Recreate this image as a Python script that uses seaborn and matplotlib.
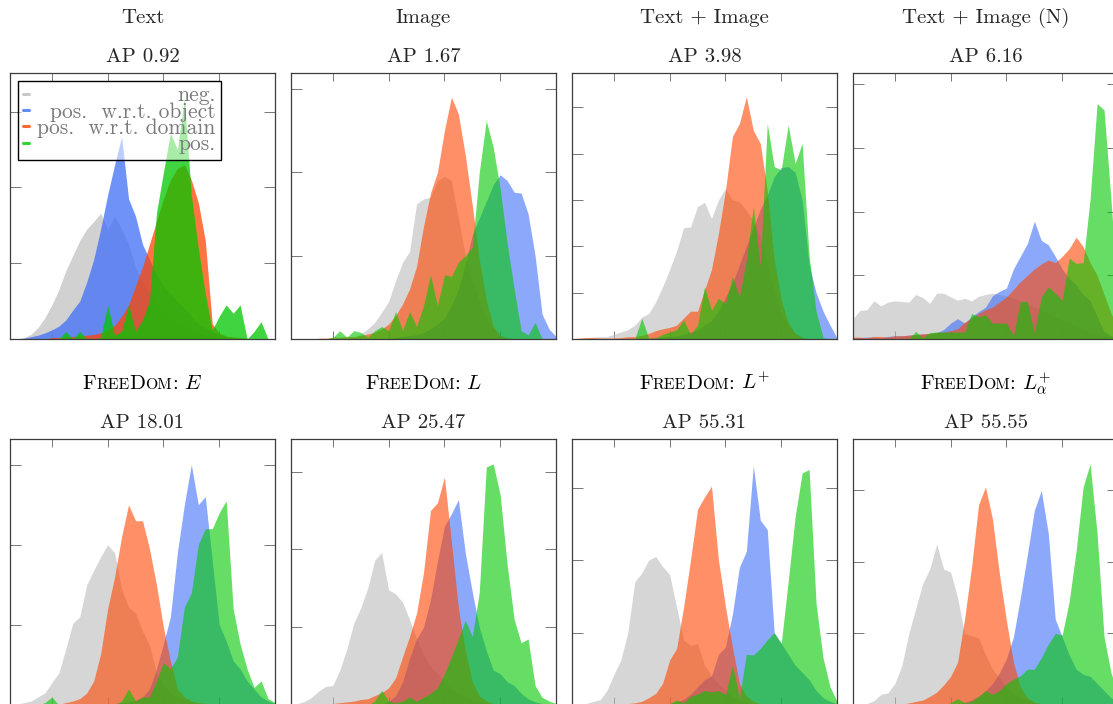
import numpy as np
import pandas as pd
import matplotlib
matplotlib.use("Agg")
import matplotlib.pyplot as plt
import seaborn as sns
from matplotlib.lines import Line2D

# ---------------- data ----------------
# score bin centres shared by all panels (0.05 ... 1.00, step 0.025)
SCORE = np.round(np.arange(0.05, 1.0 + 1e-9, 0.025), 3)

TOP_TITLES = ["Text", "Image", "Text + Image", "Text + Image (N)"]
AP_LABELS = ["AP 0.92", "AP 1.67", "AP 3.98", "AP 6.16",
             "AP 18.01", "AP 25.47", "AP 55.31", "AP 55.55"]
BOTTOM_MATH = ["$E$", "$L$", "$L^{+}$", "$L_{\\alpha}^{+}$"]
SERIES_LABELS = ["neg.", "pos.  w.r.t. object", "pos.  w.r.t. domain", "pos."]

# panel 1: Text
text_neg = [0, 0, 0.02, 0.06, 0.15, 0.28, 0.45, 0.65, 0.9, 1.1, 1.3, 1.45, 1.55, 1.66, 1.45, 1.62, 1.45, 1.25, 0.95, 0.75,
            0.6, 0.45, 0.35, 0.28, 0.2, 0.15, 0.1, 0.08, 0.05, 0.04, 0.03, 0.02, 0, 0, 0, 0, 0, 0, 0]
text_obj = [0, 0, 0.01, 0.03, 0.05, 0.08, 0.12, 0.17, 0.25, 0.38, 0.5, 0.75, 1.05, 1.45, 1.9, 2.3, 2.67, 1.85, 1.62, 1.25,
            1.05, 0.85, 0.7, 0.6, 0.5, 0.4, 0.3, 0.2, 0.15, 0.1, 0.05, 0.03, 0.01, 0, 0, 0, 0, 0, 0]
text_dom = [0, 0, 0, 0, 0, 0, 0.02, 0.02, 0.03, 0.03, 0.04, 0.05, 0.06, 0.08, 0.12, 0.18, 0.3, 0.45, 0.7, 0.95,
            1.25, 1.55, 1.85, 2.1, 2.25, 2.3, 2.1, 1.8, 1.3, 0.2, 0.08, 0.04, 0.03, 0.02, 0.01, 0, 0, 0, 0]
text_pos = [0, 0, 0, 0, 0, 0, 0, 0, 0.1, 0, 0.1, 0, 0, 0.02, 0.45, 0.05, 0.1, 0.45, 0.1, 0.25,
            0.5, 1.66, 2.2, 2.72, 2.5, 3.18, 1.9, 1.2, 0.6, 0.12, 0.3, 0.45, 0.34, 0.45, 0, 0.1, 0.23, 0, 0]

# panel 2: Image
image_neg = [0, 0, 0, 0, 0, 0, 0, 0, 0, 0.02, 0.06, 0.12, 0.2, 0.32, 0.45, 0.7, 0.92, 1.05, 1.62, 1.68,
             1.7, 1.9, 1.95, 1.9, 1.45, 1.0, 0.7, 0.45, 0.25, 0.12, 0.05, 0.02, 0, 0, 0, 0, 0, 0, 0]
image_obj = [0, 0, 0, 0, 0, 0, 0, 0, 0, 0, 0, 0, 0, 0, 0, 0.02, 0.03, 0.04, 0.05, 0.08,
             0.12, 0.18, 0.25, 0.4, 0.6, 0.9, 1.25, 1.45, 1.65, 1.85, 1.97, 1.9, 1.76, 1.75, 1.5, 1.0, 0.3, 0.12, 0.03]
image_dom = [0, 0, 0, 0, 0.01, 0.01, 0.02, 0.02, 0.03, 0.03, 0.04, 0.06, 0.08, 0.12, 0.18, 0.28, 0.42, 0.6, 0.87, 1.35,
             1.75, 2.0, 2.5, 2.9, 2.7, 2.2, 1.6, 0.95, 0.47, 0.15, 0.04, 0.01, 0, 0, 0, 0, 0, 0, 0]
image_pos = [0, 0, 0, 0, 0, 0, 0.02, 0.1, 0.02, 0.1, 0.08, 0.02, 0.1, 0.15, 0.1, 0.33, 0.1, 0.33, 0.15, 0.4,
             0.77, 0.4, 0.77, 0.75, 0.92, 1.0, 1.1, 2.0, 2.62, 2.3, 1.8, 1.15, 0.6, 0.1, 0.05, 0.2, 0, 0, 0]

# panel 3: Text + Image
ti_neg = [0, 0, 0.02, 0.04, 0.05, 0.05, 0.1, 0.15, 0.2, 0.3, 0.47, 0.55, 0.8, 1.13, 1.5, 1.9, 2.4, 2.42, 2.86, 2.95,
          2.6, 3.0, 3.25, 3.0, 2.96, 2.78, 2.55, 2.2, 1.6, 1.0, 0.6, 0.3, 0.12, 0.05, 0, 0, 0, 0, 0]
ti_obj = [0, 0, 0, 0, 0, 0, 0, 0, 0, 0, 0.02, 0.02, 0.03, 0.04, 0.05, 0.07, 0.1, 0.15, 0.2, 0.3,
          0.4, 0.6, 0.9, 1.2, 1.6, 2.0, 2.4, 2.8, 3.1, 3.5, 3.7, 3.72, 3.6, 3.0, 1.6, 1.0, 0.6, 0.3, 0.02]
ti_dom = [0, 0.02, 0.03, 0.03, 0.02, 0.02, 0.02, 0.03, 0.05, 0.05, 0.08, 0.12, 0.18, 0.22, 0.25, 0.3, 0.45, 0.6, 0.6, 1.05,
          1.5, 2.28, 3.2, 4.37, 4.65, 5.23, 4.5, 4.22, 3.2, 1.7, 0.85, 0.35, 0.12, 0.03, 0, 0, 0, 0, 0]
ti_pos = [0, 0, 0, 0, 0, 0, 0, 0, 0, 0, 0.45, 0.02, 0.02, 0.1, 0.15, 0.2, 0.41, 0.1, 0.3, 1.13,
          0.62, 0.88, 0.77, 1.35, 0.91, 1.7, 2.86, 1.56, 4.65, 3.72, 3.65, 4.62, 3.79, 4.22, 1.8, 0.6, 0.03, 0, 0]

# panel 4: Text + Image (N)
tin_neg = [0.32, 0.45, 0.46, 0.6, 0.52, 0.58, 0.6, 0.59, 0.58, 0.7, 0.65, 0.56, 0.72, 0.72, 0.66, 0.61, 0.64, 0.6, 0.67, 0.7,
           0.72, 0.7, 0.68, 0.65, 0.6, 0.55, 0.5, 0.45, 0.4, 0.35, 0.3, 0.25, 0.2, 0.15, 0.1, 0.08, 0.05, 0.03, 0.02]
tin_obj = [0.02, 0.02, 0.03, 0.03, 0.02, 0.04, 0.05, 0.05, 0.06, 0.07, 0.08, 0.08, 0.1, 0.15, 0.25, 0.32, 0.25, 0.35, 0.43, 0.5,
           0.68, 0.75, 0.8, 1.1, 1.3, 1.5, 1.85, 1.55, 1.48, 1.3, 1.1, 0.95, 0.85, 0.7, 0.6, 0.35, 0.12, 0.05, 0]
tin_dom = [0.03, 0.03, 0.02, 0.04, 0.04, 0.03, 0.05, 0.05, 0.06, 0.07, 0.08, 0.09, 0.1, 0.11, 0.13, 0.16, 0.26, 0.33, 0.4, 0.46,
           0.5, 0.58, 0.66, 0.78, 0.9, 1.0, 1.1, 1.18, 1.24, 1.2, 1.3, 1.42, 1.6, 1.45, 1.2, 1.0, 0.7, 0.4, 0.2]
tin_pos = [0, 0, 0, 0, 0, 0, 0, 0, 0, 0.12, 0.02, 0.1, 0.11, 0.11, 0.11, 0.11, 0.11, 0.4, 0.35, 0.38,
           0.25, 0.25, 0.25, 0.05, 0.59, 0.59, 0.1, 0.66, 0.82, 0.72, 0.61, 1.27, 1.19, 1.2, 2.2, 3.7, 3.6, 2.18, 0.6]

# panel 5: FreeDom E
e_neg = [0, 0.01, 0.03, 0.05, 0.1, 0.15, 0.28, 0.4, 0.7, 1.02, 1.1, 1.5, 1.68, 1.85, 2.0, 1.9, 1.45, 1.22, 1.15, 0.92,
         0.75, 0.4, 0.25, 0.15, 0.1, 0.06, 0.04, 0.02, 0.01, 0, 0, 0, 0, 0, 0, 0, 0, 0, 0]
e_obj = [0, 0, 0, 0, 0, 0, 0, 0, 0, 0, 0, 0, 0, 0, 0, 0.02, 0.03, 0.04, 0.06, 0.1,
         0.2, 0.45, 0.76, 1.1, 1.9, 2.5, 3.0, 2.5, 2.6, 1.8, 1.0, 0.8, 0.55, 0.45, 0.3, 0.2, 0.1, 0.05, 0.02]
e_dom = [0, 0, 0, 0, 0, 0, 0, 0.01, 0.03, 0.05, 0.08, 0.15, 0.3, 0.64, 1.2, 1.6, 2.1, 2.5, 2.3, 2.3,
         1.95, 1.5, 0.97, 0.55, 0.2, 0.1, 0.05, 0.03, 0.02, 0.01, 0, 0, 0, 0, 0, 0, 0, 0, 0]
e_pos = [0, 0, 0, 0, 0, 0.03, 0.1, 0, 0, 0, 0, 0, 0, 0, 0, 0, 0.05, 0.2, 0.05, 0.1,
         0.1, 0.3, 0.53, 0.45, 0.6, 1.22, 1.4, 2.0, 2.2, 2.2, 2.4, 2.55, 1.2, 0.76, 0.45, 0.22, 0.3, 0.08, 0.03]

# panel 6: FreeDom L
l_neg = [0, 0.02, 0.05, 0.1, 0.18, 0.24, 0.25, 0.45, 0.72, 1.05, 1.25, 1.5, 1.86, 1.96, 1.48, 1.43, 1.32, 1.1, 0.85, 0.65,
         0.5, 0.4, 0.3, 0.22, 0.15, 0.1, 0.06, 0.04, 0.02, 0, 0, 0, 0, 0, 0, 0, 0, 0, 0]
l_obj = [0, 0, 0, 0, 0, 0, 0, 0, 0, 0, 0, 0, 0, 0, 0.05, 0.12, 0.3, 0.6, 0.85, 1.0,
         1.35, 1.85, 2.3, 2.46, 2.64, 1.95, 1.45, 1.0, 0.7, 0.45, 0.4, 0.3, 0.25, 0.15, 0.08, 0.04, 0.02, 0, 0]
l_dom = [0, 0, 0, 0, 0, 0, 0.02, 0.03, 0.04, 0.05, 0.07, 0.08, 0.12, 0.16, 0.22, 0.35, 0.62, 0.88, 1.18, 1.7,
         2.5, 2.6, 2.93, 2.1, 1.25, 0.7, 0.3, 0.12, 0.05, 0.02, 0, 0, 0, 0, 0, 0, 0, 0, 0]
l_pos = [0, 0, 0, 0, 0, 0, 0, 0, 0, 0, 0, 0, 0.05, 0.19, 0.05, 0.03, 0.05, 0.1, 0.05, 0.1,
         0.15, 0.22, 0.4, 0.62, 0.85, 1.09, 0.88, 1.45, 3.06, 3.1, 2.7, 1.8, 1.1, 0.8, 0.85, 0.25, 0.1, 0.05, 0.02]

# panel 7: FreeDom L+
lp_neg = [0, 0, 0.02, 0.05, 0.07, 0.2, 0.42, 0.62, 1.0, 1.7, 1.82, 2.0, 2.05, 1.91, 1.8, 1.35, 0.9, 0.82, 0.85, 0.55,
          0.4, 0.3, 0.2, 0.12, 0.07, 0.04, 0.02, 0, 0, 0, 0, 0, 0, 0, 0, 0, 0, 0, 0]
lp_obj = [0, 0, 0, 0, 0, 0, 0, 0, 0, 0, 0, 0, 0, 0, 0.02, 0.04, 0.08, 0.15, 0.25, 0.35,
          0.4, 0.7, 0.8, 1.25, 1.9, 2.12, 3.3, 2.55, 2.42, 0.99, 0.85, 0.7, 0.55, 0.45, 0.35, 0.2, 0.1, 0.05, 0.02]
lp_dom = [0, 0, 0, 0, 0, 0, 0, 0.01, 0.02, 0.03, 0.05, 0.1, 0.16, 0.3, 0.62, 0.78, 1.35, 2.0, 2.7, 2.87,
          3.02, 2.0, 1.36, 0.8, 0.3, 0.12, 0.05, 0.02, 0, 0, 0, 0, 0, 0, 0, 0, 0, 0, 0]
lp_pos = [0, 0, 0, 0, 0, 0, 0, 0, 0, 0, 0, 0, 0, 0, 0.02, 0.07, 0.03, 0.12, 0.15, 0.2,
          0.18, 0.2, 0.14, 0.55, 0.1, 0.7, 0.69, 0.78, 0.9, 1.0, 0.85, 1.7, 2.6, 3.2, 3.25, 1.4, 0.65, 0.25, 0.05]

# panel 8: FreeDom L+_alpha
la_neg = [0, 0, 0.02, 0.06, 0.15, 0.17, 0.3, 0.55, 1.0, 1.35, 1.7, 1.9, 2.25, 1.9, 1.86, 1.5, 1.0, 0.97, 0.94, 0.7,
          0.5, 0.38, 0.25, 0.15, 0.1, 0.06, 0.03, 0.02, 0, 0, 0, 0, 0, 0, 0, 0, 0, 0, 0]
la_obj = [0, 0, 0, 0, 0, 0, 0, 0, 0, 0, 0, 0, 0, 0, 0, 0.02, 0.04, 0.07, 0.12, 0.2,
          0.3, 0.45, 0.65, 0.95, 1.5, 2.1, 2.72, 3.0, 2.4, 1.2, 0.95, 0.7, 0.5, 0.43, 0.4, 0.3, 0.2, 0.1, 0.05]
la_dom = [0, 0, 0, 0, 0, 0, 0, 0.01, 0.03, 0.05, 0.07, 0.12, 0.18, 0.28, 0.4, 0.6, 1.2, 1.93, 2.8, 3.05,
          2.6, 1.83, 1.18, 0.6, 0.25, 0.1, 0.04, 0.02, 0, 0, 0, 0, 0, 0, 0, 0, 0, 0, 0]
la_pos = [0, 0, 0, 0, 0, 0, 0, 0, 0, 0, 0, 0, 0, 0, 0.03, 0.09, 0.03, 0.05, 0.12, 0.2,
          0.15, 0.2, 0.3, 0.36, 0.41, 0.5, 0.5, 0.66, 0.85, 1.0, 0.98, 1.45, 2.16, 3.05, 3.37, 2.4, 0.95, 0.45, 0.15]

PANELS = [
    (text_neg, text_obj, text_dom, text_pos),
    (image_neg, image_obj, image_dom, image_pos),
    (ti_neg, ti_obj, ti_dom, ti_pos),
    (tin_neg, tin_obj, tin_dom, tin_pos),
    (e_neg, e_obj, e_dom, e_pos),
    (l_neg, l_obj, l_dom, l_pos),
    (lp_neg, lp_obj, lp_dom, lp_pos),
    (la_neg, la_obj, la_dom, la_pos),
]
Y_MAX = [3.51, 3.19, 5.74, 4.18, 3.32, 3.42, 3.67, 3.72]
Y_TICKS = [[1, 2, 3], [1, 2, 3], [1, 2, 3, 4, 5], [1, 2, 3, 4],
           [1, 2, 3], [1, 2, 3], [1, 2, 3], [1, 2, 3]]
X_TICKS = [0.2, 0.4, 0.6, 0.8]

# ---------------- style ----------------
COLORS = ["#bcbcbc", "#3f6ef8", "#ff4500", "#00c800"]
sns.set_theme(style="white")
plt.rcParams["font.family"] = ["cmr10", "DejaVu Serif"]
plt.rcParams["mathtext.fontset"] = "cm"
plt.rcParams["axes.unicode_minus"] = False
plt.rcParams["axes.formatter.use_mathtext"] = True

W, H, DPI = 1113, 704, 100
fig = plt.figure(figsize=(W / DPI, H / DPI), dpi=DPI)
renderer = fig.canvas.get_renderer()

TITLE_FS = 15
LEFT_PX = [10, 291, 572, 853]
AX_W, AX_H = 265, 266
TOP_PX = [73, 439]
BIN_W = 0.025


def place_pieces(ax, pieces, y_pt):
    """Place a sequence of text pieces centred above the axes on one baseline."""
    texts, gaps = [], []
    for s, scale, gap in pieces:
        t = ax.annotate(s, xy=(0.5, 1), xycoords="axes fraction", xytext=(0, y_pt),
                        textcoords="offset points", ha="left", va="baseline",
                        fontsize=TITLE_FS * scale, color="black", annotation_clip=False)
        texts.append(t)
        gaps.append(gap)
    widths = [t.get_window_extent(renderer).width * 72 / DPI for t in texts]
    total = sum(widths) + sum(gaps)
    x = -total / 2
    for t, w, g in zip(texts, widths, gaps):
        t.xyann = (x, y_pt)
        x += w + g


axes = []
for i, series in enumerate(PANELS):
    row, col = divmod(i, 4)
    l = LEFT_PX[col] / W
    b = (H - TOP_PX[row] - AX_H) / H
    ax = fig.add_axes([l, b, AX_W / W, AX_H / H])
    axes.append(ax)
    alpha = 0.75 if i == 0 else 0.6
    for vals, c in zip(series, COLORS):
        df = pd.DataFrame({"score": SCORE, "height": np.asarray(vals, dtype=float)})
        a = 0.68 if (i == 0 and c == COLORS[0]) else alpha
        sns.histplot(data=df, x="score", weights="height", binwidth=BIN_W,
                     binrange=(SCORE[0] - BIN_W / 2, SCORE[-1] + BIN_W / 2),
                     element="poly", fill=True, color=c, alpha=a, linewidth=0, ax=ax)
    ax.set_xlim(0.05, 1.0)
    ax.set_ylim(0, Y_MAX[i])
    ax.set_xticks(X_TICKS)
    ax.set_yticks(Y_TICKS[i])
    ax.set_xticklabels([])
    ax.set_yticklabels([])
    ax.set_xlabel("")
    ax.set_ylabel("")
    ax.tick_params(axis="x", which="both", direction="in", top=True, bottom=True,
                   length=6, width=0.7, color="#777777")
    ax.tick_params(axis="y", which="both", direction="in", left=True, right=True,
                   length=8, width=0.7, color="#777777")
    for sp in ax.spines.values():
        sp.set_color("#3c3c3c")
        sp.set_linewidth(0.9)
        sp.set_visible(True)

    # AP title
    ax.annotate(AP_LABELS[i], xy=(0.5, 1), xycoords="axes fraction", xytext=(0, 7.7),
                textcoords="offset points", ha="center", va="baseline",
                fontsize=TITLE_FS, annotation_clip=False)
    if row == 0:
        ax.annotate(TOP_TITLES[col], xy=(0.5, 1), xycoords="axes fraction", xytext=(0, 35.8),
                    textcoords="offset points", ha="center", va="baseline",
                    fontsize=TITLE_FS, annotation_clip=False)
    else:
        sc = 0.76
        pieces = [("F", 1, 0), ("REE", sc, 0), ("D", 1, 0), ("OM", sc, 0), (":", 1, 4.5),
                  (BOTTOM_MATH[col], 1, 0)]
        place_pieces(ax, pieces, 35.8)

# legend in first panel (entries right-aligned like the original)
ax0 = axes[0]
handles = [Line2D([], [], color=c, lw=2.2, alpha=0.8) for c in COLORS]
leg = ax0.legend(handles, SERIES_LABELS, loc="upper left", bbox_to_anchor=(0.0, 1.0),
                 borderaxespad=0.35, fontsize=15.5, handlelength=0.3, handletextpad=0.35,
                 labelspacing=-0.15, borderpad=0.25, fancybox=False, frameon=True)
frame = leg.get_frame()
frame.set_alpha(None)
frame.set_facecolor((1, 1, 1, 0.55))
frame.set_edgecolor("black")
frame.set_linewidth(1.0)
texts = leg.get_texts()
for t in texts:
    t.set_color("#7a7a7a")
fig.canvas.draw()
widths = [t.get_window_extent(renderer).width for t in texts]
maxw = max(widths)
for t, w in zip(texts, widths):
    t.set_position((maxw - w, 0))

fig.savefig("out.png", dpi=DPI)
